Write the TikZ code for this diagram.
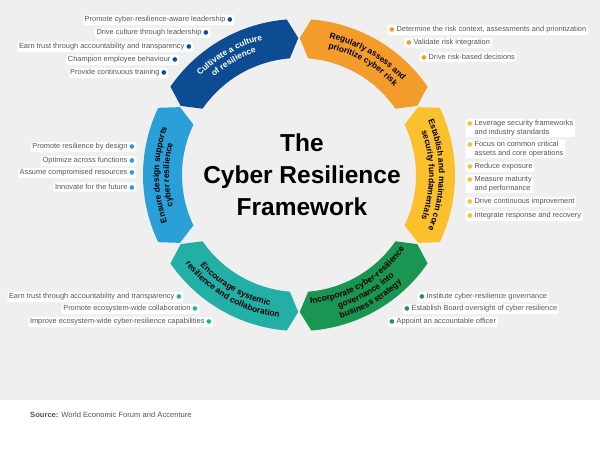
\documentclass[tikz,border=0pt]{standalone}
\usepackage{fontspec}
\setmainfont{Liberation Sans}
\newfontfamily\dotfont{DejaVu Sans}
\usepackage{tikz}
\usetikzlibrary{decorations.text}
\usepackage{xcolor}
\definecolor{culture}{RGB}{13,76,146}
\definecolor{risk}{RGB}{243,156,43}
\definecolor{fund}{RGB}{251,192,45}
\definecolor{gov}{RGB}{27,149,82}
\definecolor{eco}{RGB}{34,175,165}
\definecolor{design}{RGB}{42,159,216}
\definecolor{bggrey}{RGB}{239,239,239}
\definecolor{txtgrey}{RGB}{85,85,85}
\newcommand{\segfont}{\bfseries\fontsize{8.4}{10}\selectfont}
\newcommand{\dt}[1]{{\color{#1}\dotfont\fontsize{6}{6}\selectfont ●}}

\begin{document}
\begin{tikzpicture}[x=1pt,y=1pt,
	item/.style={fill=white,rounded corners=1.5pt,inner sep=1.6pt,text=txtgrey,font=\fontsize{7.4}{8.4}\selectfont},
	iteml/.style={item,anchor=west},
	itemr/.style={item,anchor=east},
	segtext/.style={decorate,decoration={text along path,text align=center,text={#1}}}]
	\useasboundingbox (-299,-276) rectangle (301,175);
	\fill[white] (-299,-276) rectangle (301,175);
	\fill[bggrey] (-299,-225) rectangle (301,175);
	\foreach \a/\b/\c in {90/150/culture,30/90/risk,-30/30/fund,-90/-30/gov,210/270/eco,150/210/design}
		\fill[\c] (\a+0.3:137pt) -- (\a+4.5:156pt) arc[start angle=\a+4.5,end angle=\b-4.5,radius=156pt]
			-- (\b-0.3:137pt) -- (\b-4.5:117pt) arc[start angle=\b-4.5,end angle=\a+4.5,radius=117pt] -- cycle;
	\path[segtext={|\segfont\color{white}|Cultivate a culture}] (147:140pt) arc[start angle=147,end angle=93,radius=140pt];
	\path[segtext={|\segfont\color{white}|of resilience}] (147:130pt) arc[start angle=147,end angle=93,radius=130pt];
	\path[segtext={|\segfont|Regularly assess and}] (87:140pt) arc[start angle=87,end angle=33,radius=140pt];
	\path[segtext={|\segfont|prioritize cyber risk}] (87:130pt) arc[start angle=87,end angle=33,radius=130pt];
	\path[segtext={|\segfont|Establish and maintain core}] (27:140pt) arc[start angle=27,end angle=-27,radius=140pt];
	\path[segtext={|\segfont|security fundamentals}] (27:130pt) arc[start angle=27,end angle=-27,radius=130pt];
	\path[segtext={|\segfont|Incorporate cyber-resilience}] (-87:129pt) arc[start angle=-87,end angle=-33,radius=129pt];
	\path[segtext={|\segfont|governance into}] (-87:139pt) arc[start angle=-87,end angle=-33,radius=139pt];
	\path[segtext={|\segfont|business strategy}] (-87:149pt) arc[start angle=-87,end angle=-33,radius=149pt];
	\path[segtext={|\segfont|Encourage systemic}] (213:134pt) arc[start angle=213,end angle=267,radius=134pt];
	\path[segtext={|\segfont|resilience and collaboration}] (213:144pt) arc[start angle=213,end angle=267,radius=144pt];
	\path[segtext={|\segfont|Ensure design supports}] (207:140pt) arc[start angle=207,end angle=153,radius=140pt];
	\path[segtext={|\segfont|cyber resilience}] (207:130pt) arc[start angle=207,end angle=153,radius=130pt];
	\node[font=\bfseries\fontsize{24.5}{32}\selectfont,align=center] (title) at (3,0) {The\\Cyber Resilience\\Framework};
	\node[itemr] (cult1) at (-64.5,155) {Promote cyber-resilience-aware leadership~\dt{culture}};
	\node[itemr] (cult2) at (-88.5,142) {Drive culture through leadership~\dt{culture}};
	\node[itemr] (cult3) at (-105.5,128) {Earn trust through accountability and transparency~\dt{culture}};
	\node[itemr] (cult4) at (-119.5,115) {Champion employee behaviour~\dt{culture}};
	\node[itemr] (cult5) at (-130.5,102) {Provide continuous training~\dt{culture}};
	\node[iteml] (risk1) at (88.5,145) {\dt{risk}~Determine the risk context, assessments and prioritization};
	\node[iteml] (risk2) at (105.5,132) {\dt{risk}~Validate risk integration};
	\node[iteml] (risk3) at (120.5,118) {\dt{risk}~Drive risk-based decisions};
	\node[item,anchor=north west,align=left] (fund1) at (166.5,56.5) {\dt{fund}~Leverage security frameworks\\\phantom{\dt{fund}~}and industry standards};
	\node[item,anchor=north west,align=left] (fund2) at (166.5,35.5) {\dt{fund}~Focus on common critical\\\phantom{\dt{fund}~}assets and core operations};
	\node[iteml] (fund3) at (166.5,8) {\dt{fund}~Reduce exposure};
	\node[item,anchor=north west,align=left] (fund4) at (166.5,0.5) {\dt{fund}~Measure maturity\\\phantom{\dt{fund}~}and performance};
	\node[iteml] (fund5) at (166.5,-27) {\dt{fund}~Drive continuous improvement};
	\node[iteml] (fund6) at (166.5,-41) {\dt{fund}~Integrate response and recovery};
	\node[itemr] (design1) at (-162.5,28) {Promote resilience by design~\dt{design}};
	\node[itemr] (design2) at (-162.5,14) {Optimize across functions~\dt{design}};
	\node[itemr] (design3) at (-162.5,2) {Assume compromised resources~\dt{design}};
	\node[itemr] (design4) at (-162.5,-12) {Innovate for the future~\dt{design}};
	\node[itemr] (eco1) at (-115.5,-122) {Earn trust through accountability and transparency~\dt{eco}};
	\node[itemr] (eco2) at (-99.5,-134) {Promote ecosystem-wide collaboration~\dt{eco}};
	\node[itemr] (eco3) at (-85.5,-147) {Improve ecosystem-wide cyber-resilience capabilities~\dt{eco}};
	\node[iteml] (gov1) at (118.5,-122) {\dt{gov}~Institute cyber-resilience governance};
	\node[iteml] (gov2) at (103.5,-134) {\dt{gov}~Establish Board oversight of cyber resilience};
	\node[iteml] (gov3) at (88.5,-147) {\dt{gov}~Appoint an accountable officer};
	\node[anchor=base west,inner sep=0,text=txtgrey,font=\fontsize{7.6}{8.6}\selectfont] (src) at (-269,-242) {\textbf{Source:} World Economic Forum and Accenture};
\end{tikzpicture}
\end{document}
